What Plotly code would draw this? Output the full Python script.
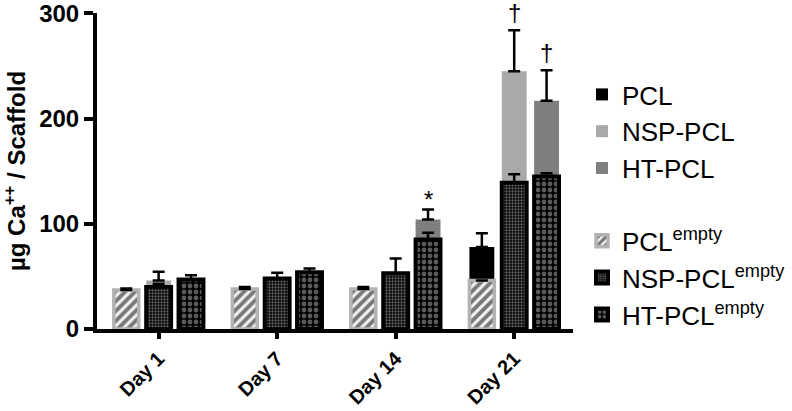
import plotly.graph_objects as go

days = ["Day 1", "Day 7", "Day 14", "Day 21"]

pcl_total = [35, 36, 36, 78]
pcl_total_err = [None, None, None, 13]
nsp_total = [46, 47, 50, 245]
nsp_total_err = [8.5, None, None, 39]
ht_total = [45, 53, 104, 217]
ht_total_err = [None, None, 9.5, 29]

pcl_empty = [37, 38, 38, 46]
pcl_empty_err = [1.5, 2, 2, None]
nsp_empty = [40, 48, 53, 139]
nsp_empty_err = [3, 5.5, 14, 8]
ht_empty = [47, 54, 85, 145]
ht_empty_err = [4, 3.5, 6.5, 3]

sig_labels = ["*", "†", "†"]
sig_day = [2, 3, 3]
sig_bar = [2, 1, 2]  # 0=PCL, 1=NSP-PCL, 2=HT-PCL

FONT = "Liberation Sans, Arial, sans-serif"
BW = 0.21
CENTERS = [-0.273, 0.0, 0.273]
OFFS = [c - BW / 2 for c in CENTERS]

W, H = 792, 411


def err(vals):
    return dict(type="data", array=vals, arrayminus=[0] * len(vals), symmetric=False,
                color="black", thickness=2.5, width=6)


fig = go.Figure()
# totals (drawn behind)
totals = [
    ("PCL", pcl_total, pcl_total_err, "#000000", 0),
    ("NSP-PCL", nsp_total, nsp_total_err, "#a9a9a9", 1),
    ("HT-PCL", ht_total, ht_total_err, "#7f7f7f", 2),
]
for name, vals, e, col, i in totals:
    fig.add_trace(go.Bar(x=days, y=vals, name=name, width=BW, offset=OFFS[i],
                         marker=dict(color=col, line=dict(width=0)),
                         error_y=err(e), legendgroup="total"))

empties = [
    ("PCL<sup>empty</sup>", pcl_empty, pcl_empty_err, 0,
     dict(color="white", line=dict(color="#b3b3b3", width=3.5),
          pattern=dict(shape="/", fgcolor="black", bgcolor="#f0f0f0", size=7, solidity=0.55))),
    ("NSP-PCL<sup>empty</sup>", nsp_empty, nsp_empty_err, 1,
     dict(color="#505050", line=dict(color="black", width=4),
          pattern=dict(shape=".", fgcolor="#c8c8c8", bgcolor="black", size=3, solidity=0.45))),
    ("HT-PCL<sup>empty</sup>", ht_empty, ht_empty_err, 2,
     dict(color="#505050", line=dict(color="black", width=4),
          pattern=dict(shape=".", fgcolor="#b4b4b4", bgcolor="black", size=6, solidity=0.5))),
]
for name, vals, e, i, mk in empties:
    fig.add_trace(go.Bar(x=days, y=vals, name=name, width=BW, offset=OFFS[i],
                         marker=mk, error_y=err(e), legendgroup="empty"))

bar_tops = [
    [a + (b or 0) for a, b in zip(pcl_total, pcl_total_err)],
    [a + (b or 0) for a, b in zip(nsp_total, nsp_total_err)],
    [a + (b or 0) for a, b in zip(ht_total, ht_total_err)],
]
for lab, d, b in zip(sig_labels, sig_day, sig_bar):
    fig.add_annotation(x=d + CENTERS[b], y=bar_tops[b][d], text=lab, showarrow=False,
                       yanchor="bottom", yshift=2 if lab == "†" else -5,
                       font=dict(family=FONT, size=24, color="black"))

fig.update_layout(
    width=W, height=H,
    margin=dict(l=97, r=219, t=13, b=82, autoexpand=False),
    barmode="overlay",
    plot_bgcolor="white", paper_bgcolor="white",
    font=dict(family=FONT, color="black"),
    showlegend=True,
    legend=dict(x=582 / W, xref="container", y=1 - 71 / H, yref="container",
                xanchor="left", yanchor="top", traceorder="grouped", tracegroupgap=36,
                maxheight=340,
                font=dict(family=FONT, size=26, color="black"), bgcolor="rgba(0,0,0,0)"),
)
fig.update_xaxes(
    type="category", range=[-0.52, 3.496], showline=True, linecolor="black", linewidth=4,
    ticks="outside", ticklen=6, tickwidth=4, tickcolor="black", tickangle=-45,
    tickfont=dict(family=FONT, size=20, color="black", weight="bold"),
    showgrid=False, zeroline=False, automargin=False,
)
fig.update_yaxes(
    range=[0, 300.3], tickvals=[0, 100, 200, 300], showline=True, linecolor="black", linewidth=4,
    ticks="outside", ticklen=9, tickwidth=4, tickcolor="black", ticklabeloverflow="allow",
    tickfont=dict(family=FONT, size=24, color="black", weight="bold"),
    showgrid=False, zeroline=False, automargin=False,
    title=dict(text="µg Ca<sup>++</sup> / Scaffold", standoff=12,
               font=dict(family=FONT, size=24, color="black", weight="bold")),
)

fig.write_html("out.html", config={"displayModeBar": False},
               post_script="document.body.style.margin='0';")
